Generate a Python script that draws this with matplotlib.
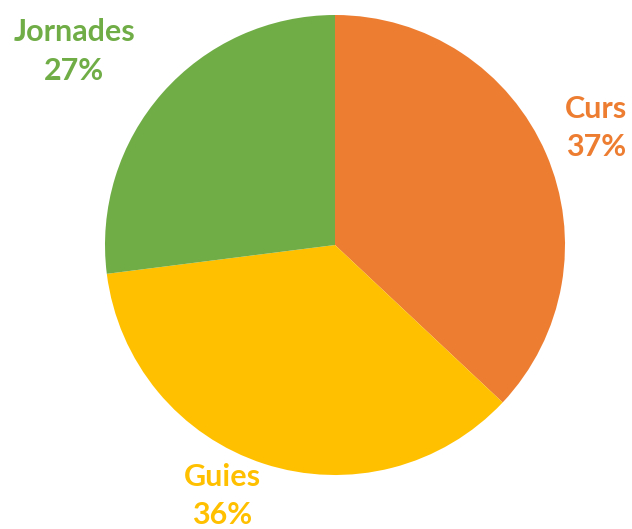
import matplotlib

matplotlib.use("Agg")
import matplotlib.pyplot as plt

categories = ["Curs", "Guies", "Jornades"]
values = [37, 36, 27]
colors = ["#ED7D31", "#FFC000", "#70AD47"]

# label positions in data coords (pie radius = 1)
label_pos = [(1.135, 0.51), (-0.491, -1.09), (-1.133, 0.842)]

fig = plt.figure(figsize=(6.32, 5.29), dpi=100)
ax = fig.add_axes([105 / 632, 54 / 529, 460 / 632, 460 / 529])
ax.pie(values, colors=colors, startangle=90, counterclock=False, radius=1,
       wedgeprops=dict(linewidth=0))
ax.set_xlim(-1, 1)
ax.set_ylim(-1, 1)
ax.set_aspect("equal")
ax.axis("off")

for name, val, col, (x, y) in zip(categories, values, colors, label_pos):
    ax.text(x, y, f"{name}\n{val}%", color=col, ha="center", va="center",
            fontsize=22, fontweight="bold", family="Lato", linespacing=1.45,
            clip_on=False)

fig.savefig("out.png", dpi=100)
